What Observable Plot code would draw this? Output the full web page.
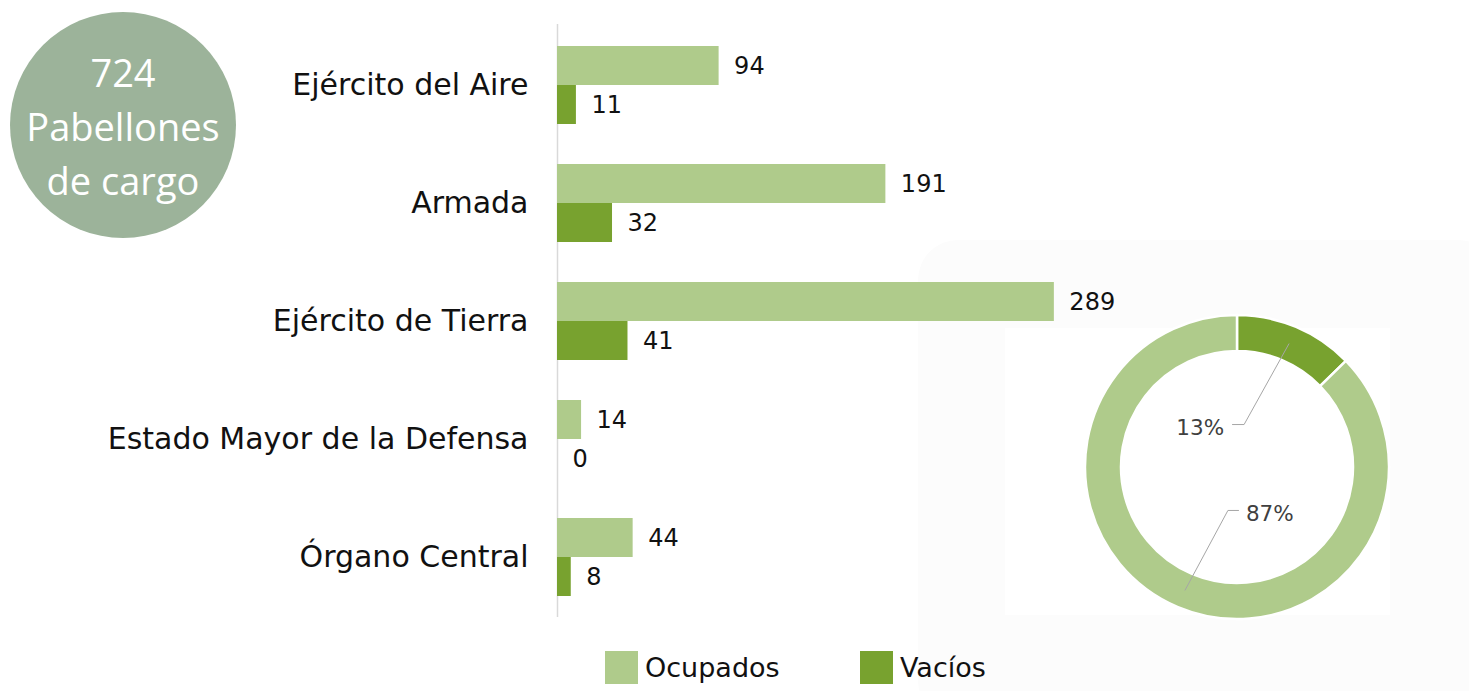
<!DOCTYPE html>
<html><head><meta charset="utf-8">
<script src="https://cdn.jsdelivr.net/npm/d3@7"></script>
<script src="https://cdn.jsdelivr.net/npm/@observablehq/plot@0.6"></script>
<style>
body{margin:0;background:#fff;font-family:"DejaVu Sans",Verdana,sans-serif;}
#wrap{position:relative;width:1469px;height:691px;overflow:hidden;}
#panel{position:absolute;left:918px;top:240px;width:580px;height:480px;background:#fcfcfc;border-radius:40px;}
#inner{position:absolute;left:1005px;top:328px;width:385px;height:287px;background:#fff;}
#chart{position:absolute;left:0;top:0;}
#badge{position:absolute;left:10px;top:12px;width:226px;height:226px;border-radius:50%;background:#9cb39a;color:#fff;font-family:"Open Sans",sans-serif;font-size:38px;line-height:54px;text-align:center;display:flex;flex-direction:column;justify-content:center;padding-top:2px;box-sizing:border-box;}
#legend{position:absolute;left:0;top:640px;width:1469px;height:51px;}
.li{position:absolute;top:11px;display:flex;align-items:center;font-size:27px;color:#111;}
.sw{width:33px;height:33px;margin-right:7px;}
</style>
</head><body>
<div id="wrap">
  <div id="panel"></div><div id="inner"></div>
  <div id="chart"></div>
  <div id="badge"></div>
  <div id="legend"></div>
</div>
<script>
const categories = ["Ejército del Aire","Armada","Ejército de Tierra","Estado Mayor de la Defensa","Órgano Central"];
const ocupados = [94,191,289,14,44];
const vacios = [11,32,41,0,8];
const series = ["Ocupados","Vacíos"];
const colors = ["#afcb8b","#78a22f"];
const badgeLines = ["Pabellones","de cargo"];

const rows = categories.flatMap((c,i)=>[
  {cat:c, serie:"Ocupados", value:ocupados[i]},
  {cat:c, serie:"Vacíos", value:vacios[i]}
]);
const occRows = rows.filter(d=>d.serie==="Ocupados");
const vacRows = rows.filter(d=>d.serie==="Vacíos");
const totOcc = d3.sum(ocupados), totVac = d3.sum(vacios), total = totOcc + totVac;
const pieData = [{serie:"Vacíos", value:totVac},{serie:"Ocupados", value:totOcc}];

function donut(index, scales, values, dims) {
  const cx = 1237, cy = 467, r0 = 116, r1 = 152;
  const g = d3.create("svg:g").attr("transform",`translate(${cx},${cy})`);
  const arcs = d3.pie().sort(null).value(d=>d.value)(pieData);
  const arc = d3.arc().innerRadius(r0).outerRadius(r1);
  g.selectAll("path").data(arcs).join("path")
    .attr("d", arc)
    .attr("fill", d=>scales.color(d.data.serie))
    .attr("stroke","#fff").attr("stroke-width",2.5);
  arcs.forEach(a=>{
    const [px,py] = arc.centroid(a);
    const pct = Math.round(a.data.value/total*100)+"%";
    if (a.data.serie==="Vacíos") {
      const lx = px-48, ly = py+81;
      g.append("path").attr("d",`M${px},${py}L${lx+3},${ly}L${lx-9},${ly}`)
        .attr("fill","none").attr("stroke","#a6a6a6").attr("stroke-width",1);
      g.append("text").attr("x",lx-17).attr("y",ly+3).attr("dy","0.35em")
        .attr("text-anchor","end").attr("font-size",21.5).attr("fill","#404040").text(pct);
    } else {
      const lx = px+43, ly = py-80;
      g.append("path").attr("d",`M${px},${py}L${lx},${ly}L${lx+11},${ly}`)
        .attr("fill","none").attr("stroke","#a6a6a6").attr("stroke-width",1);
      g.append("text").attr("x",lx+18).attr("y",ly+3).attr("dy","0.35em")
        .attr("text-anchor","start").attr("font-size",21.5).attr("fill","#404040").text(pct);
    }
  });
  return g.node();
}

const chart = Plot.plot({
  width:1469, height:640,
  marginLeft:557, marginRight:18, marginTop:24, marginBottom:23,
  x:{domain:[0,520], axis:null},
  y:{domain:categories, paddingInner:0.342, paddingOuter:0.171, label:null, axis:null},
  color:{domain:series, range:colors},
  style:{fontFamily:"DejaVu Sans, Verdana, sans-serif", color:"#111", background:"transparent"},
  marks:[
    Plot.axisY({tickSize:0, tickPadding:29, fontSize:30, label:null}),
    Plot.ruleX([0], {stroke:"#d9d9d9", strokeWidth:1.5}),
    Plot.barX(occRows, {x:"value", y:"cat", fill:"serie", insetBottom:39}),
    Plot.barX(vacRows, {x:"value", y:"cat", fill:"serie", insetTop:39}),
    Plot.text(occRows, {x:"value", y:"cat", text:"value", dx:15, dy:-19.5, textAnchor:"start", fontSize:24, fill:"#111"}),
    Plot.text(vacRows, {x:"value", y:"cat", text:"value", dx:15, dy:19.5, textAnchor:"start", fontSize:24, fill:"#111"}),
    donut
  ]
});
document.getElementById("chart").appendChild(chart);

const badge = document.getElementById("badge");
[String(total), ...badgeLines].forEach(t=>{const d=document.createElement("div");d.textContent=t;badge.appendChild(d);});

const legend = document.getElementById("legend");
const legendX = [605, 860];
series.forEach((s,i)=>{
  const it = document.createElement("div"); it.className="li"; it.style.left=legendX[i]+"px";
  const sw = document.createElement("div"); sw.className="sw"; sw.style.background=colors[i];
  const tx = document.createElement("span"); tx.textContent=s;
  it.appendChild(sw); it.appendChild(tx); legend.appendChild(it);
});
</script>
</body></html>
